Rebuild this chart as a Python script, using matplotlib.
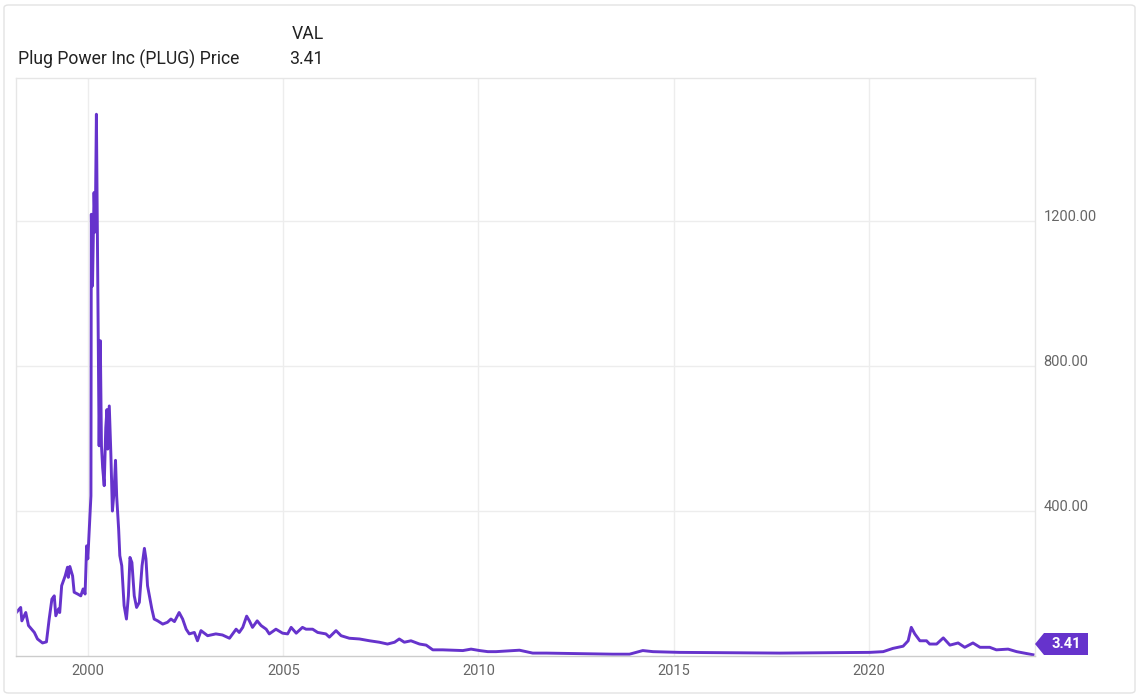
import matplotlib.pyplot as plt
from matplotlib.patches import Polygon, FancyBboxPatch
from matplotlib.transforms import IdentityTransform

plt.rcParams['font.family'] = ['Roboto', 'DejaVu Sans']

# decimal year, price (split adjusted)
years = [1998.16, 1998.27, 1998.30, 1998.40, 1998.47, 1998.62, 1998.70, 1998.83, 1998.93,
         1999.00, 1999.07, 1999.13, 1999.17, 1999.24, 1999.27, 1999.32, 1999.41, 1999.47,
         1999.49, 1999.53, 1999.60, 1999.64, 1999.73, 1999.81, 1999.87, 1999.92, 1999.96,
         1999.99, 2000.07, 2000.08, 2000.11, 2000.15, 2000.18, 2000.21, 2000.26, 2000.28,
         2000.31, 2000.34, 2000.37, 2000.41, 2000.45, 2000.48, 2000.50, 2000.54, 2000.58,
         2000.62, 2000.66, 2000.70, 2000.73, 2000.78, 2000.81, 2000.86, 2000.92, 2000.98,
         2001.03, 2001.07, 2001.12, 2001.18, 2001.24, 2001.31, 2001.38, 2001.44, 2001.48,
         2001.52, 2001.63, 2001.69, 2001.78, 2001.91, 2002.03, 2002.12, 2002.21, 2002.33,
         2002.42, 2002.51, 2002.59, 2002.72, 2002.80, 2002.89, 2003.06, 2003.27, 2003.44,
         2003.62, 2003.79, 2003.87, 2003.96, 2004.06, 2004.13, 2004.21, 2004.33, 2004.43,
         2004.56, 2004.64, 2004.81, 2004.98, 2005.11, 2005.20, 2005.33, 2005.49, 2005.58,
         2005.75, 2005.88, 2006.09, 2006.18, 2006.35, 2006.48, 2006.69, 2006.95, 2007.21,
         2007.46, 2007.67, 2007.85, 2007.97, 2008.10, 2008.27, 2008.49, 2008.66, 2008.74,
         2008.83, 2009.08, 2009.34, 2009.60, 2009.81, 2010.03, 2010.24, 2010.45, 2011.05,
         2011.39, 2011.74, 2013.44, 2013.87, 2014.21, 2014.47, 2015.15, 2017.72, 2020.03,
         2020.37, 2020.62, 2020.88, 2021.01, 2021.09, 2021.18, 2021.31, 2021.48, 2021.56,
         2021.74, 2021.91, 2022.08, 2022.29, 2022.46, 2022.67, 2022.85, 2023.10, 2023.27,
         2023.57, 2023.79, 2024.21]
price = [120, 134, 97, 120, 84, 65, 47, 36, 39,
         102, 157, 166, 111, 130, 120, 194, 221, 245,
         217, 247, 221, 176, 171, 166, 185, 171, 304,
         268, 442, 1219, 1021, 1279, 1170, 1495, 850, 580,
         870, 580, 520, 470, 630, 680, 571, 690, 560,
         400, 450, 540, 440, 350, 277, 249, 139, 102,
         166, 272, 258, 166, 134, 148, 249, 297, 268,
         194, 130, 102, 97, 88, 93, 102, 95, 120,
         102, 74, 61, 65, 42, 70, 56, 61, 58,
         49, 74, 65, 79, 110, 97, 79, 97, 84,
         74, 61, 74, 63, 61, 79, 63, 79, 74,
         74, 65, 61, 52, 70, 56, 49, 47, 42,
         38, 33, 38, 47, 38, 42, 33, 30, 24,
         17, 17, 16, 15, 19, 15, 12, 12, 16,
         8, 8, 5, 5, 15, 12, 10, 8, 10,
         12, 21, 27, 42, 79, 61, 42, 42, 33,
         33, 50, 30, 36, 24, 36, 24, 24, 17,
         19, 12, 3.41]

x_ticks = [2000, 2005, 2010, 2015, 2020]
y_ticks = [400, 800, 1200]
series_name = 'Plug Power Inc (PLUG) Price'
last_label = '3.41'

line_color = '#6633cc'

fig = plt.figure(figsize=(11.4, 6.97), dpi=100)
W, H = 1140, 697
ax = fig.add_axes([16 / W, 1 - 656 / H, (1035 - 16) / W, (656 - 78) / H])

ax.plot(years, price, color=line_color, lw=2.1, solid_joinstyle='round')
ax.set_xlim(1998.15, 2024.26)
ax.set_ylim(0, 1595)

ax.set_xticks(x_ticks)
ax.set_xticklabels([str(y) for y in x_ticks])
ax.set_yticks(y_ticks)
ax.set_yticklabels([f'{v:.2f}' for v in y_ticks])
ax.yaxis.tick_right()
ax.tick_params(axis='both', length=0, labelsize=10.5, labelcolor='#666666')
ax.tick_params(axis='x', pad=6)
ax.tick_params(axis='y', pad=6)
for lab in ax.get_yticklabels():
    lab.set_va('baseline')

ax.grid(True, color='#ededed', lw=1)
ax.set_axisbelow(True)
for side in ['top', 'left', 'right']:
    ax.spines[side].set_color('#e6e6e6')
    ax.spines[side].set_linewidth(1)
ax.spines['bottom'].set_color('#cccccc')
ax.spines['bottom'].set_linewidth(1)

# header
fig.text(18 / W, 1 - 59 / H, series_name, fontsize=12.7, color='#222222', va='center', ha='left')
fig.text(324 / W, 1 - 34 / H, 'VAL', fontsize=12.7, color='#222222', va='center', ha='right')
fig.text(324 / W, 1 - 59 / H, last_label, fontsize=12.7, color='#222222', va='center', ha='right')

# outer frame
fig.add_artist(FancyBboxPatch((4 / W, 4 / H), 1 - 9 / W, 1 - 9 / H,
                              boxstyle='round,pad=0,rounding_size=0.004',
                              transform=fig.transFigure, fill=False,
                              edgecolor='#e3e3e3', lw=1))

# last value badge
tip_x, tip_y = ax.transData.transform((ax.get_xlim()[1], price[-1]))
ax_bottom_px = ax.transAxes.transform((0, 0))[1]
tip_y = max(tip_y, ax_bottom_px + 12)
badge = Polygon([(tip_x, tip_y), (tip_x + 9, tip_y + 11), (tip_x + 53, tip_y + 11),
                 (tip_x + 53, tip_y - 11), (tip_x + 9, tip_y - 11)],
                closed=True, facecolor=line_color, edgecolor='none',
                transform=IdentityTransform())
fig.add_artist(badge)
fig.text((tip_x + 31) / W, tip_y / H, last_label, color='white', fontsize=10.5,
         fontweight='bold', ha='center', va='center')

fig.savefig('out.png', dpi=100)
